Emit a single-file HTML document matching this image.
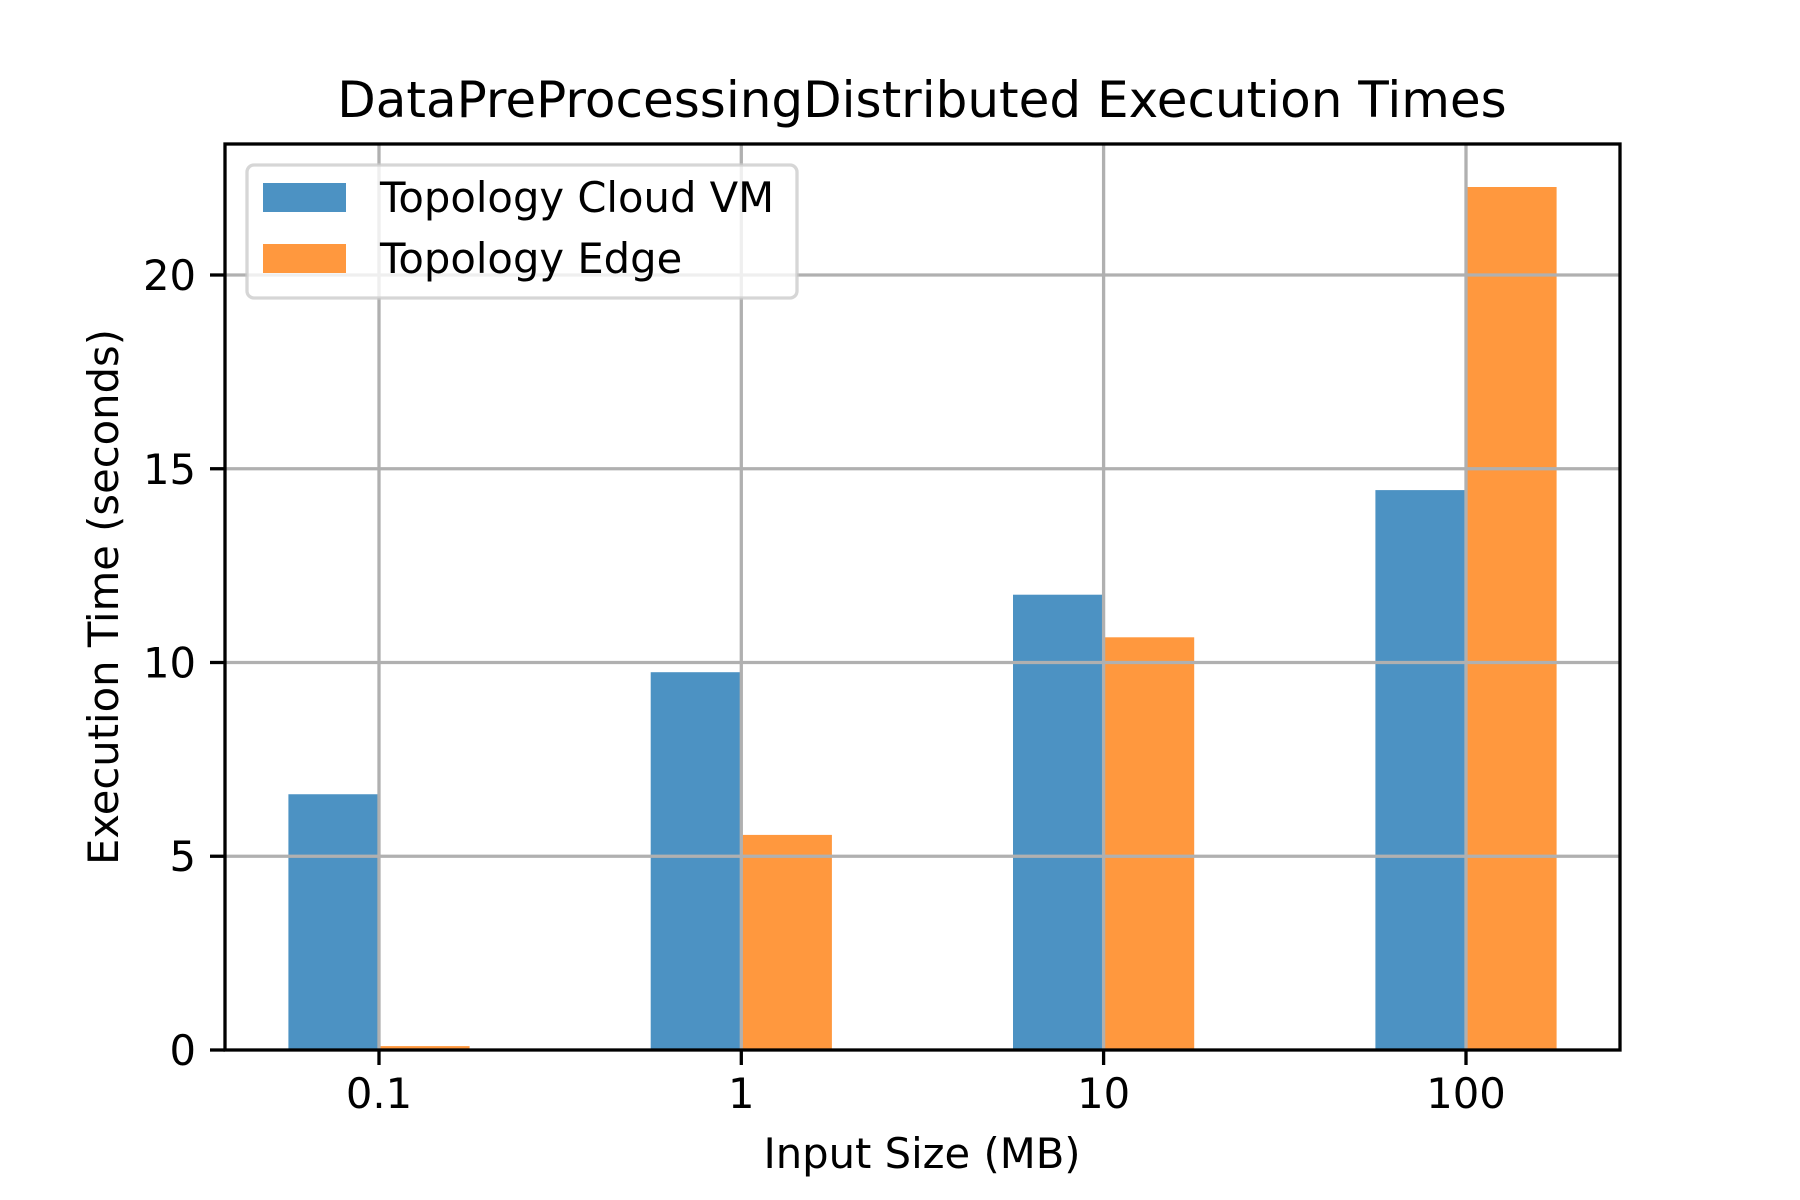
<!DOCTYPE html>
<html><head><meta charset="utf-8"><style>html,body{margin:0;padding:0;background:#fff}svg{display:block}text{font-family:"DejaVu Sans","Liberation Sans",sans-serif;fill:#000}</style></head>
<body>
<svg width="1800" height="1200" viewBox="0 0 1800 1200" xmlns="http://www.w3.org/2000/svg">
<rect width="1800" height="1200" fill="#fff"/>
<g fill="#4c92c3">
<rect x="288.4" y="794.25" width="90.6" height="255.75"/>
<rect x="650.7" y="672.2" width="90.6" height="377.8"/>
<rect x="1013" y="594.7" width="90.6" height="455.3"/>
<rect x="1375.4" y="490.1" width="90.6" height="559.9"/>
</g>
<g fill="#ff983e">
<rect x="379" y="1046.1" width="90.6" height="3.9"/>
<rect x="741.3" y="834.9" width="90.6" height="215.1"/>
<rect x="1103.6" y="637.3" width="90.6" height="412.7"/>
<rect x="1466" y="187" width="90.6" height="863"/>
</g>
<g stroke="#b0b0b0" stroke-width="3.3">
<line x1="379" y1="144" x2="379" y2="1050"/>
<line x1="741.3" y1="144" x2="741.3" y2="1050"/>
<line x1="1103.6" y1="144" x2="1103.6" y2="1050"/>
<line x1="1466" y1="144" x2="1466" y2="1050"/>
<line x1="225" y1="856.25" x2="1620" y2="856.25"/>
<line x1="225" y1="662.5" x2="1620" y2="662.5"/>
<line x1="225" y1="468.75" x2="1620" y2="468.75"/>
<line x1="225" y1="275" x2="1620" y2="275"/>
</g>
<rect x="225" y="144" width="1395" height="906" fill="none" stroke="#000" stroke-width="3.3"/>
<g stroke="#000" stroke-width="3.3">
<line x1="379" y1="1050" x2="379" y2="1065"/>
<line x1="741.3" y1="1050" x2="741.3" y2="1065"/>
<line x1="1103.6" y1="1050" x2="1103.6" y2="1065"/>
<line x1="1466" y1="1050" x2="1466" y2="1065"/>
<line x1="210" y1="1050" x2="225" y2="1050"/>
<line x1="210" y1="856.25" x2="225" y2="856.25"/>
<line x1="210" y1="662.5" x2="225" y2="662.5"/>
<line x1="210" y1="468.75" x2="225" y2="468.75"/>
<line x1="210" y1="275" x2="225" y2="275"/>
</g>
<g font-size="41.7" text-anchor="middle">
<text x="379" y="1108">0.1</text>
<text x="741.3" y="1108">1</text>
<text x="1103.6" y="1108">10</text>
<text x="1466" y="1108">100</text>
</g>
<g font-size="41.7" text-anchor="end">
<text x="196" y="1065">0</text>
<text x="196" y="871">5</text>
<text x="196" y="677.5">10</text>
<text x="196" y="484">15</text>
<text x="196" y="290">20</text>
</g>
<text x="922" y="1168" font-size="41.7" text-anchor="middle">Input Size (MB)</text>
<text transform="translate(118,597) rotate(-90)" font-size="41.7" text-anchor="middle">Execution Time (seconds)</text>
<text x="922" y="117" font-size="50" text-anchor="middle">DataPreProcessingDistributed Execution Times</text>
<rect x="247" y="165" width="550" height="133" rx="7" fill="#fff" fill-opacity="0.8" stroke="#cccccc" stroke-opacity="0.8" stroke-width="3.3"/>
<rect x="263" y="183" width="83" height="29" fill="#4c92c3"/>
<rect x="263" y="244" width="83" height="29" fill="#ff983e"/>
<text x="380" y="212" font-size="41.7">Topology Cloud VM</text>
<text x="380" y="273" font-size="41.7">Topology Edge</text>
</svg>
</body></html>
